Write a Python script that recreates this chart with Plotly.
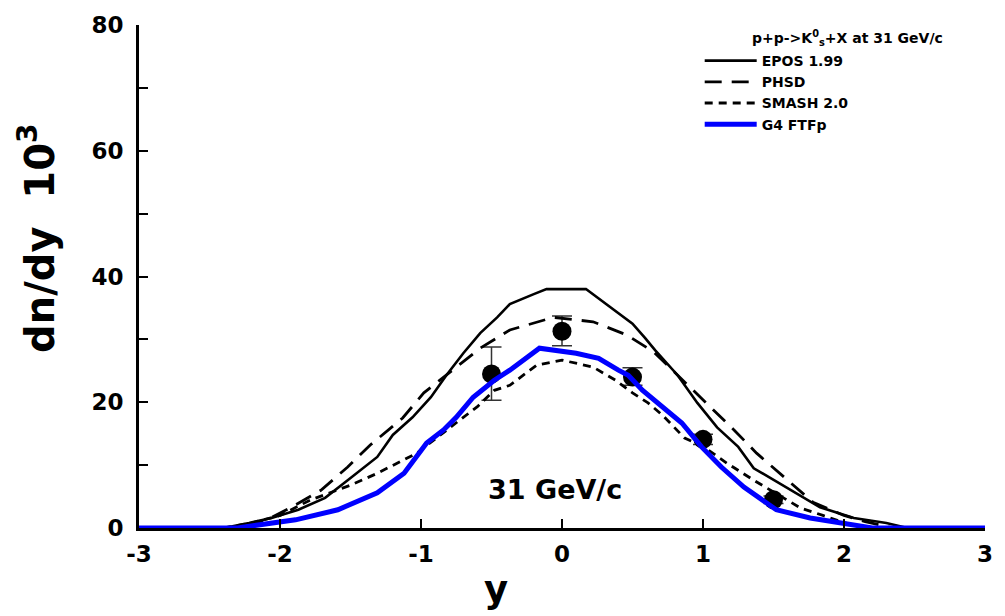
import plotly.graph_objects as go

# ---------------- data ----------------
epos_x = [-3, -2.4, -2.22, -2.06, -1.87, -1.68, -1.52, -1.31, -1.2, -1.06, -0.93, -0.82, -0.7, -0.58,
          -0.46, -0.37, -0.2, -0.11, 0.17, 0.29, 0.4, 0.5, 0.59, 0.66, 0.82, 0.96, 1.1, 1.25, 1.36,
          1.6, 1.83, 2.07, 2.3, 2.45, 3]
epos_y = [0, 0, 0.8, 1.6, 2.9, 4.8, 7.6, 11.3, 14.8, 17.6, 20.8, 24.3, 27.8, 31.0,
          33.5, 35.6, 37.2, 38.0, 38.0, 36.0, 34.2, 32.5, 30.2, 28.3, 24.3, 19.9, 16.0, 12.9, 9.5,
          6.3, 3.3, 1.6, 0.8, 0, 0]

phsd_x = [-3, -2.35, -2.1, -1.92, -1.71, -1.52, -1.36, -1.13, -0.98, -0.58, -0.37, -0.06, 0.22,
          0.46, 0.65, 0.87, 1.03, 1.22, 1.38, 1.6, 1.78, 2.0, 2.15, 2.35, 3]
phsd_y = [0, 0, 1.2, 3.3, 6.0, 9.7, 13.2, 17.5, 21.5, 28.6, 31.5, 33.5, 32.8,
          30.7, 28.0, 23.2, 19.6, 15.6, 11.9, 7.6, 4.1, 2.0, 1.0, 0, 0]

smash_x = [-3, -2.4, -2.2, -2.0, -1.78, -1.5, -1.31, -1.03, -0.7, -0.6, -0.48, -0.37, -0.18, 0,
           0.22, 0.38, 0.5, 0.61, 0.71, 0.87, 1.0, 1.17, 1.36, 1.69, 1.85, 2.05, 2.2, 3]
smash_y = [0, 0, 0.8, 2.0, 4.5, 6.8, 8.7, 11.9, 17.6, 19.3, 21.9, 22.7, 25.9, 26.7,
           25.6, 23.5, 21.5, 19.9, 18.0, 14.3, 13.0, 10.3, 7.6, 3.2, 2.0, 0.5, 0, 0]

g4_x = [-3, -2.3, -2.24, -1.89, -1.59, -1.31, -1.12, -0.96, -0.84, -0.75, -0.63, -0.48, -0.37,
        -0.16, 0.1, 0.26, 0.4, 0.47, 0.57, 0.66, 0.85, 0.99, 1.13, 1.29, 1.52, 1.76, 2.0, 2.2, 3]
g4_y = [0, 0, 0.2, 1.3, 2.9, 5.6, 8.7, 13.5, 15.6, 17.6, 20.8, 23.5, 25.1,
        28.6, 27.8, 27.0, 25.1, 24.3, 21.9, 20.3, 16.7, 12.9, 9.7, 6.5, 2.9, 1.6, 0.8, 0, 0]

data_x = [-0.5, 0, 0.5, 1, 1.5]
data_y = [24.5, 31.3, 24.0, 14.1, 4.5]
data_err_plus = [4.3, 2.4, 1.5, 0.8, 0.6]
data_err_minus = [4.2, 2.3, 1.3, 0.8, 0.6]

x_tickvals = [-3, -2, -1, 0, 1, 2, 3]
x_ticktext = ["-3", "-2", "-1", "0", "1", "2", "3"]
y_tickvals = [0, 20, 40, 60, 80]
y_ticktext = ["0", "20", "40", "60", "80"]

FONT = "DejaVu Sans, Arial, sans-serif"

plot_l, plot_r, plot_t, plot_b = 139, 993, 25, 528


def px_to_paper_x(px):
    return (px - plot_l) / (plot_r - plot_l)


def px_to_paper_y(py):
    return (plot_b - py) / (plot_b - plot_t)


fig = go.Figure()

fig.add_trace(go.Scatter(
    x=data_x, y=data_y, mode="markers", showlegend=False,
    marker=dict(color="black", size=19),
    error_y=dict(type="data", array=data_err_plus, arrayminus=data_err_minus,
                 color="#333333", thickness=1.5, width=10),
))

fig.add_trace(go.Scatter(x=epos_x, y=epos_y, mode="lines", name="EPOS 1.99",
                         line=dict(color="black", width=2.6)))
fig.add_trace(go.Scatter(x=phsd_x, y=phsd_y, mode="lines", name="PHSD",
                         line=dict(color="black", width=2.8, dash="17px,10px")))
fig.add_trace(go.Scatter(x=smash_x, y=smash_y, mode="lines", name="SMASH 2.0",
                         line=dict(color="black", width=2.8, dash="8px,6px")))
fig.add_trace(go.Scatter(x=g4_x, y=g4_y, mode="lines", name="G4 FTFp",
                         line=dict(color="#0000ff", width=5)))

# panel label
fig.add_annotation(x=-0.05, y=6.2, xref="x", yref="y", text="<b>31 GeV/c</b>",
                   showarrow=False, font=dict(family=FONT, size=27, color="black"),
                   xanchor="center", yanchor="middle")
# legend heading
fig.add_annotation(x=px_to_paper_x(756), y=px_to_paper_y(38), xref="paper", yref="paper",
                   text="<b>p+p->K<sup>0</sup><sub>s</sub>+X at 31 GeV/c</b>",
                   showarrow=False, font=dict(family=FONT, size=14, color="black"),
                   xanchor="left", yanchor="middle")
# axis titles
fig.add_annotation(x=px_to_paper_x(36), y=px_to_paper_y(238), xref="paper", yref="paper",
                   text="<b>dn/dy  10<sup>3</sup></b>", textangle=-90,
                   showarrow=False, font=dict(family=FONT, size=40, color="black"),
                   xanchor="center", yanchor="middle")
fig.add_annotation(x=px_to_paper_x(499), y=px_to_paper_y(589), xref="paper", yref="paper",
                   text="<b>y</b>",
                   showarrow=False, font=dict(family=FONT, size=37, color="black"),
                   xanchor="center", yanchor="middle")

fig.update_layout(
    width=1005, height=616,
    margin=dict(l=plot_l, r=1005 - plot_r, t=plot_t, b=616 - plot_b),
    paper_bgcolor="white", plot_bgcolor="white",
    font=dict(family=FONT, color="black"),
    legend=dict(
        x=px_to_paper_x(705), y=px_to_paper_y(45),
        xanchor="left", yanchor="top",
        bgcolor="rgba(0,0,0,0)", borderwidth=0,
        font=dict(family=FONT, size=14, color="black", weight="bold"),
        itemwidth=52, tracegroupgap=0,
    ),
    xaxis=dict(
        range=[-3, 3], tickvals=x_tickvals, ticktext=x_ticktext,
        ticks="inside", ticklen=9, tickwidth=2, tickcolor="black",
        showline=True, linecolor="black", linewidth=3, mirror=False,
        showgrid=False, zeroline=False, ticklabelstandoff=3,
        tickfont=dict(family=FONT, size=23, color="black", weight="bold"),
    ),
    yaxis=dict(
        range=[0, 80], tickvals=y_tickvals, ticktext=y_ticktext,
        ticks="inside", ticklen=9, tickwidth=2, tickcolor="black",
        minor=dict(ticks="inside", ticklen=9, tickwidth=2, tickcolor="black", dtick=10, showgrid=False),
        showline=True, linecolor="black", linewidth=3, mirror=False,
        showgrid=False, zeroline=False, ticklabelstandoff=8,
        tickfont=dict(family=FONT, size=23, color="black", weight="bold"),
    ),
)

fig.write_html("out.html")
